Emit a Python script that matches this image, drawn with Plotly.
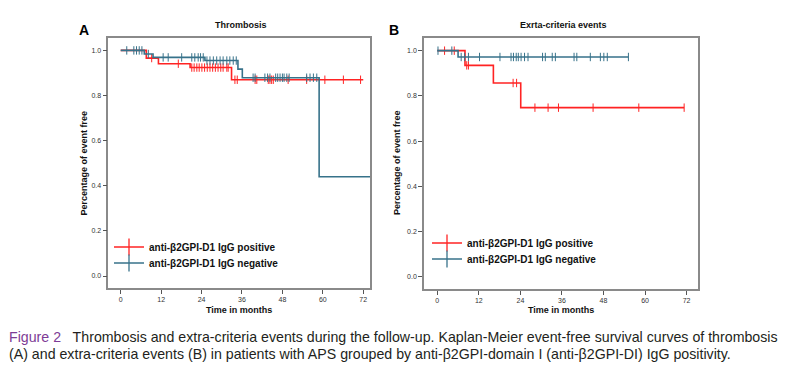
import plotly.graph_objects as go

# ---------------- data ----------------
# Panel A: Thrombosis
A_pos_event_t = [7.6, 11.2, 20.6, 32.9]
A_pos_event_s = [0.966, 0.941, 0.924, 0.870]
A_pos_end = 72.0
A_pos_cens = [9.2, 17.1, 21.1, 21.8, 22.6, 23.3, 24.1, 24.9, 25.7, 26.5, 27.3, 28.1,
              28.9, 29.7, 30.4, 31.5, 31.9, 33.9, 34.6, 39.9, 40.4, 43.8, 44.3, 44.8,
              45.3, 49.7, 55.2, 60.6, 66.1, 71.2]

A_neg_event_t = [7.0, 9.6, 25.0, 34.8, 36.1, 58.9]
A_neg_event_s = [0.984, 0.969, 0.955, 0.917, 0.879, 0.440]
A_neg_end = 75.0
A_neg_cens = [1.8, 3.9, 4.7, 5.5, 6.3, 8.2, 12.6, 14.1, 18.1, 21.1, 22.0, 23.0, 23.7, 24.5,
              25.6, 26.5, 27.5, 28.5, 29.5, 30.4, 31.5, 32.4, 33.4, 34.3,
              39.3, 39.9, 42.8, 43.6, 44.3, 46.0, 46.6, 47.3, 48.0, 48.5, 49.3, 50.0,
              55.2, 56.2, 57.2, 58.2]

# Panel B: Extra-criteria events
B_pos_event_t = [8.0, 16.2, 24.1]
B_pos_event_s = [0.935, 0.857, 0.748]
B_pos_end = 71.3
B_pos_cens = [2.1, 4.9, 8.5, 9.0, 21.9, 22.9, 28.2, 32.0, 35.0, 45.0, 58.2, 71.3]

B_neg_event_t = [6.0]
B_neg_event_s = [0.972]
B_neg_end = 55.2
B_neg_cens = [0.2, 4.2, 6.9, 7.9, 9.0, 12.2, 18.1, 21.3, 22.0, 22.8, 23.4, 24.2, 25.2,
              26.2, 30.4, 31.2, 33.2, 34.1, 39.5, 40.3, 44.2, 47.1, 48.1, 49.1, 55.2]

x_ticks = [0, 12, 24, 36, 48, 60, 72]
y_ticks = [0.0, 0.2, 0.4, 0.6, 0.8, 1.0]
y_ticklabels = ["0.0", "0.2", "0.4", "0.6", "0.8", "1.0"]

series_names = ["anti-β2GPI-D1 IgG positive", "anti-β2GPI-D1 IgG negative"]
titles = ["Thrombosis", "Exrta-criteria events"]

RED = "#ff2323"
BLUE = "#37728a"

W, H = 793, 376
SANS = "Liberation Sans, Arial, sans-serif"


def step_xy(ev_t, ev_s, end):
    x = [0.0] + list(ev_t) + [end]
    y = [1.0] + list(ev_s) + [ev_s[-1]]
    return x, y


def surv_at(t, ev_t, ev_s):
    s = 1.0
    for tt, ss in zip(ev_t, ev_s):
        if t >= tt:
            s = ss
    return s


fig = go.Figure()


def add_group(ev_t, ev_s, end, cens, color, name, xa, ya, legend):
    x, y = step_xy(ev_t, ev_s, end)
    fig.add_trace(go.Scatter(x=x, y=y, mode="lines", line=dict(color=color, width=1.6, shape="hv"),
                             xaxis=xa, yaxis=ya, showlegend=False, hoverinfo="skip"))
    cy = [surv_at(c, ev_t, ev_s) for c in cens]
    fig.add_trace(go.Scatter(x=cens, y=cy, mode="markers",
                             marker=dict(symbol="line-ns", size=6, line=dict(color=color, width=1)),
                             xaxis=xa, yaxis=ya, showlegend=False, hoverinfo="skip"))
    fig.add_trace(go.Scatter(x=[None], y=[None], mode="lines+markers", name="<b>" + name + "</b>",
                             line=dict(color=color, width=1.6),
                             marker=dict(symbol="line-ns", size=12, line=dict(color=color, width=1.3)),
                             xaxis=xa, yaxis=ya, showlegend=True, legend=legend))


add_group(A_pos_event_t, A_pos_event_s, A_pos_end, A_pos_cens, RED, series_names[0], "x", "y", "legend")
add_group(A_neg_event_t, A_neg_event_s, A_neg_end, A_neg_cens, BLUE, series_names[1], "x", "y", "legend2")
add_group(B_pos_event_t, B_pos_event_s, B_pos_end, B_pos_cens, RED, series_names[0], "x2", "y2", "legend3")
add_group(B_neg_event_t, B_neg_event_s, B_neg_end, B_neg_cens, BLUE, series_names[1], "x2", "y2", "legend4")

axis_common = dict(showgrid=False, zeroline=False, showline=True, mirror=True,
                   linecolor="#8a8a8a", linewidth=1.5, ticks="outside", ticklen=4,
                   tickcolor="#555", tickwidth=1,
                   tickfont=dict(family=SANS, size=7, color="#333"))

leg_font = dict(family=SANS, size=10, color="#111")


def leg(xpx, ypx):
    return dict(x=xpx / W, y=1 - ypx / H, xanchor="left", yanchor="middle", bgcolor="rgba(0,0,0,0)",
                font=leg_font, itemwidth=30, tracegroupgap=0)


fig.update_layout(
    width=W, height=H, margin=dict(l=0, r=0, t=0, b=0, autoexpand=False),
    paper_bgcolor="white", plot_bgcolor="white",
    xaxis=dict(domain=[108.3 / W, 370 / W], range=[-3.68, 74.0], tickvals=x_ticks, anchor="y",
               **axis_common),
    yaxis=dict(domain=[1 - 288 / H, 1 - 38 / H], range=[-0.053, 1.055], tickvals=y_ticks,
               ticktext=y_ticklabels, anchor="x", **axis_common),
    xaxis2=dict(domain=[424 / W, 698 / W], range=[-3.84, 75.3], tickvals=x_ticks, anchor="y2",
                **axis_common),
    yaxis2=dict(domain=[1 - 289 / H, 1 - 38 / H], range=[-0.054, 1.056], tickvals=y_ticks,
                ticktext=y_ticklabels, anchor="x2", **axis_common),
    legend=leg(109, 247),
    legend2=leg(109, 263),
    legend3=leg(427, 243),
    legend4=leg(427, 259),
    showlegend=True,
)

lab_font = dict(family=SANS, size=9, color="#111")
ann = []


def add_ann(text, xpx, ypx, font, **kw):
    d = dict(text=text, x=xpx / W, y=1 - ypx / H, xref="paper", yref="paper", showarrow=False,
             xanchor="center", yanchor="middle", font=font)
    d.update(kw)
    ann.append(d)


add_ann("<b>" + titles[0] + "</b>", 241, 25, lab_font)
add_ann("<b>" + titles[1] + "</b>", 563, 25, lab_font)
add_ann("<b>A</b>", 84, 30, dict(family=SANS, size=14, color="#000"))
add_ann("<b>B</b>", 394, 30, dict(family=SANS, size=14, color="#000"))
for xc in (239, 561):
    add_ann("<b>Time in months</b>", xc, 310, lab_font)
for xc in (83.5, 397):
    add_ann("<b>Percentage of event free</b>", xc, 163, lab_font, textangle=-90)

cap_font = dict(family="Liberation Sans Narrow, Arial Narrow, Liberation Sans, sans-serif", size=14.2,
                color="#231f20")
add_ann("<span style='color:#7d3c96'>Figure 2</span>   Thrombosis and extra-criteria events "
        "during the follow-up. Kaplan-Meier event-free survival curves of thrombosis",
        7, 337, cap_font, xanchor="left")
add_ann("(A) and extra-criteria events (B) in patients with APS grouped by anti-β2GPI-domain I "
        "(anti-β2GPI-DI) IgG positivity.",
        7, 354, cap_font, xanchor="left")
fig.update_layout(annotations=ann)

fig.write_html("out.html", config={"displayModeBar": False},
               post_script="document.body.style.margin='0';document.body.style.padding='0';")
